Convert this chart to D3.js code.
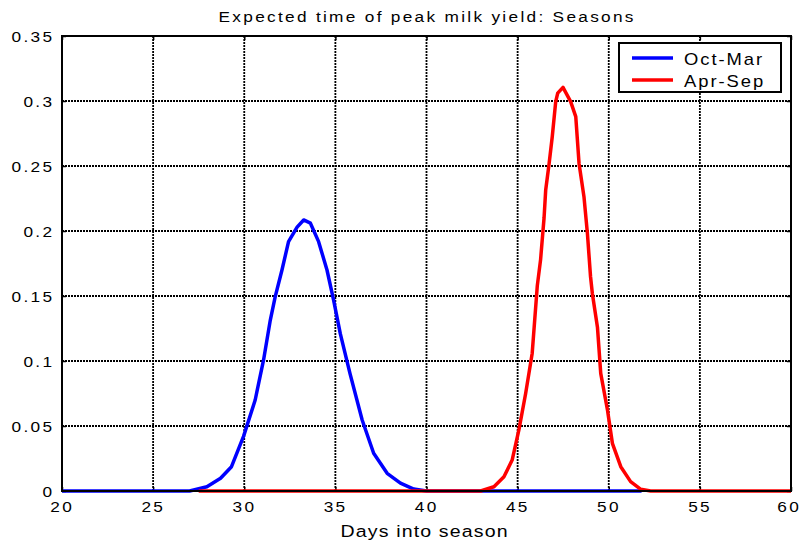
<!DOCTYPE html>
<html>
<head>
<meta charset="utf-8">
<script src="https://cdn.jsdelivr.net/npm/d3@7"></script>
<style>
  html, body { margin: 0; padding: 0; background: #fff; }
  svg text { font-family: "Liberation Sans", Arial, sans-serif; fill: #000; }
</style>
</head>
<body>
<svg id="chart" width="801" height="541"></svg>
<script>
// Expected time of peak milk yield, by calving season
const xTicks = [20, 25, 30, 35, 40, 45, 50, 55, 60];
const yTicks = [0, 0.05, 0.1, 0.15, 0.2, 0.25, 0.3, 0.35];
const yTickLabels = ["0", "0.05", "0.1", "0.15", "0.2", "0.25", "0.3", "0.35"];
const seriesNames = ["Oct-Mar", "Apr-Sep"];
const seriesColors = ["#0000ff", "#ff0000"];

const octMarDays = [20, 27.0, 27.95, 28.7, 29.3, 29.96, 30.6, 31.06, 31.43, 31.7, 32.07, 32.43, 32.9, 33.26, 33.63, 34.08, 34.54, 34.9, 35.27, 35.8, 36.47, 37.1, 37.84, 38.57, 39.3, 40.0, 51.8];
const octMarDens = [0, 0, 0.0033, 0.0098, 0.0187, 0.042, 0.07, 0.1008, 0.1315, 0.1495, 0.170, 0.1918, 0.203, 0.2085, 0.206, 0.1918, 0.170, 0.147, 0.121, 0.0905, 0.0546, 0.029, 0.0136, 0.006, 0.0015, 0, 0];

const aprSepDays = [27.5, 42.97, 43.7, 44.25, 44.7, 45.07, 45.44, 45.8, 46.08, 46.26, 46.45, 46.54, 46.72, 46.9, 47.09, 47.2, 47.49, 47.91, 48.19, 48.37, 48.64, 48.83, 49.0, 49.1, 49.38, 49.56, 49.93, 50.2, 50.66, 51.2, 51.76, 52.3, 60];
const aprSepDens = [0, 0, 0.0033, 0.011, 0.0238, 0.047, 0.075, 0.106, 0.158, 0.178, 0.21, 0.2315, 0.251, 0.2725, 0.2995, 0.306, 0.3105, 0.2995, 0.288, 0.252, 0.2264, 0.198, 0.165, 0.152, 0.126, 0.0905, 0.0623, 0.0367, 0.0187, 0.0072, 0.0013, 0, 0];

const svg = d3.select("#chart");
const plotL = 62, plotR = 791, plotT = 36, plotB = 491;
const stretch = 1.15; // horizontal glyph stretch used for every label

const x = d3.scaleLinear().domain([20, 60]).range([plotL, plotR]);
const y = d3.scaleLinear().domain([0, 0.35]).range([plotB, plotT]);

// text helper: wide, letter-spaced glyphs; compensates the trailing letter space
function label(parent, tx, ty, str, size, spacing, anchor) {
  const trail = spacing * stretch;
  const shift = anchor === "end" ? trail : anchor === "middle" ? trail / 2 : 0;
  return parent.append("text")
    .attr("transform", `translate(${tx + shift},${ty}) scale(${stretch},1)`)
    .attr("text-anchor", anchor)
    .attr("font-size", size)
    .style("letter-spacing", spacing + "px")
    .text(str);
}

// dotted grid
const grid = svg.append("g").attr("stroke", "#000").attr("stroke-width", 1.8).attr("stroke-dasharray", "2,1");
grid.selectAll(".gx").data(xTicks.slice(1, -1)).join("line")
  .attr("x1", d => x(d)).attr("x2", d => x(d))
  .attr("y1", plotT).attr("y2", plotB);
grid.selectAll(".gy").data(yTicks.slice(1, -1)).join("line")
  .attr("y1", d => y(d)).attr("y2", d => y(d))
  .attr("x1", plotL).attr("x2", plotR);

// inward tick marks on all four sides
svg.append("g").attr("transform", `translate(0,${plotB})`)
  .call(d3.axisBottom(x).tickValues(xTicks).tickSize(-4).tickFormat(""));
svg.append("g").attr("transform", `translate(${plotL},0)`)
  .call(d3.axisLeft(y).tickValues(yTicks).tickSize(-4).tickFormat(""));
svg.append("g").attr("transform", `translate(0,${plotT})`)
  .call(d3.axisTop(x).tickValues(xTicks).tickSize(-4).tickFormat(""));
svg.append("g").attr("transform", `translate(${plotR},0)`)
  .call(d3.axisRight(y).tickValues(yTicks).tickSize(-4).tickFormat(""));
svg.selectAll(".domain").attr("stroke", "none");
svg.selectAll(".tick line").attr("stroke", "#000").attr("stroke-width", 1.5);

// tick labels
const tickSize = 15, tickSpacing = 2;
const xLabels = svg.append("g");
xTicks.forEach((d, i) => {
  const cx = i === xTicks.length - 1 ? x(d) - 3 : x(d) - 1;
  label(xLabels, cx, 512, d3.format("d")(d), tickSize, tickSpacing, "middle");
});
const yLabels = svg.append("g");
yTicks.forEach((d, i) => {
  label(yLabels, plotL - 10, y(d) + 5.5, yTickLabels[i], tickSize, tickSpacing, "end");
});

// series
const line = d3.line().x(d => x(d[0])).y(d => y(d[1]));
const series = [
  d3.zip(octMarDays, octMarDens),
  d3.zip(aprSepDays, aprSepDens)
];
svg.append("g").selectAll("path").data(series).join("path")
  .attr("d", line)
  .attr("fill", "none")
  .attr("stroke", (d, i) => seriesColors[i])
  .attr("stroke-width", 3.5)
  .attr("stroke-linejoin", "round");

// frame
svg.append("rect")
  .attr("x", plotL).attr("y", plotT)
  .attr("width", plotR - plotL).attr("height", plotB - plotT)
  .attr("fill", "none").attr("stroke", "#000").attr("stroke-width", 2);

// titles
label(svg, 426, 22, "Expected time of peak milk yield: Seasons", 15, 2, "middle");
label(svg, 424, 537, "Days into season", 17, 1, "middle");

// legend
const lg = svg.append("g");
lg.append("rect").attr("x", 619).attr("y", 43).attr("width", 162).attr("height", 49)
  .attr("fill", "#fff").attr("stroke", "#000").attr("stroke-width", 2);
seriesNames.forEach((name, i) => {
  const ly = 58 + i * 22;
  lg.append("line").attr("x1", 632).attr("x2", 673).attr("y1", ly).attr("y2", ly)
    .attr("stroke", seriesColors[i]).attr("stroke-width", 3.5);
  label(lg, 684, ly + 6.5, name, 16, 1.7, "start");
});
</script>
</body>
</html>
